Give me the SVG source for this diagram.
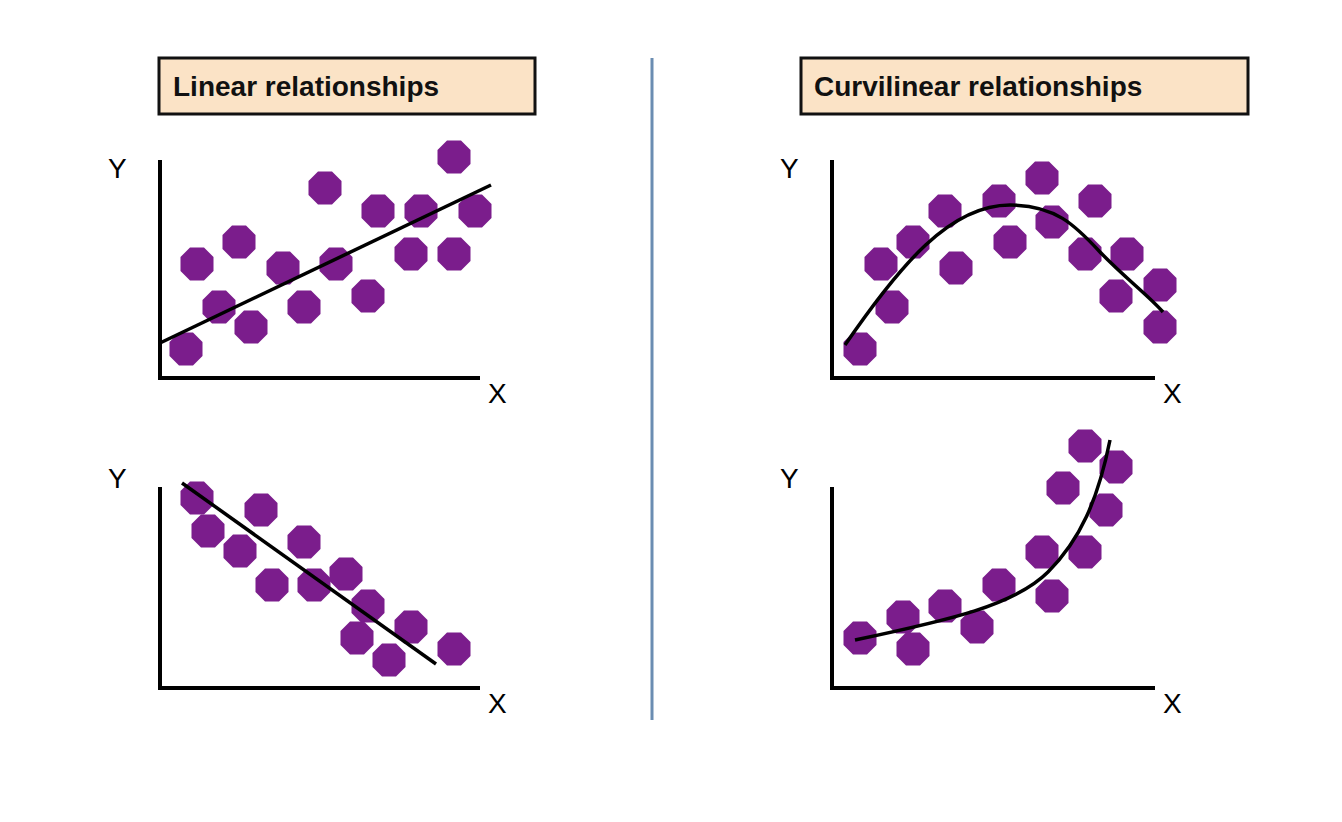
<svg xmlns="http://www.w3.org/2000/svg" width="1342" height="822" viewBox="0 0 1342 822">
<style>
.t{font-family:"Liberation Sans",Arial,sans-serif;font-weight:bold;font-size:28px;fill:#111}
.ax{font-family:"Liberation Sans",Arial,sans-serif;font-size:28px;fill:#000}
.box{fill:#fbe3c6;stroke:#111;stroke-width:3}
.axis{fill:none;stroke:#000;stroke-width:4}
.fit{fill:none;stroke:#000;stroke-width:3.5}
</style>
<defs>
<polygon id="d" points="-7,-16.5 7,-16.5 16.5,-7 16.5,7 7,16.5 -7,16.5 -16.5,7 -16.5,-7" fill="#7b1d8c"/>
</defs>
<rect width="1342" height="822" fill="#fff"/>
<line x1="652" y1="58" x2="652" y2="720" stroke="#6b8db2" stroke-width="3"/>
<g id="title-linear"><rect class="box" x="159" y="58" width="376" height="56"/><text class="t" x="173" y="96">Linear relationships</text></g>
<g id="title-curvilinear"><rect class="box" x="801" y="58" width="447" height="56"/><text class="t" x="814" y="96">Curvilinear relationships</text></g>
<g id="plot-linear-pos">
<path class="axis" d="M160,160V378H480"/><text class="ax" x="108" y="178">Y</text><text class="ax" x="488" y="403">X</text>
<use href="#d" x="186" y="349"/><use href="#d" x="197" y="264"/><use href="#d" x="219" y="307"/><use href="#d" x="239" y="242"/><use href="#d" x="251" y="327"/><use href="#d" x="283" y="268"/><use href="#d" x="304" y="307"/><use href="#d" x="325" y="188"/><use href="#d" x="336" y="264"/><use href="#d" x="368" y="296"/><use href="#d" x="378" y="211"/><use href="#d" x="411" y="254"/><use href="#d" x="421" y="211"/><use href="#d" x="454" y="157"/><use href="#d" x="454" y="254"/><use href="#d" x="475" y="211"/>
</g>
<g id="plot-linear-neg">
<path class="axis" d="M160,487V688H480"/><text class="ax" x="108" y="488">Y</text><text class="ax" x="488" y="713">X</text>
<use href="#d" x="197" y="498"/><use href="#d" x="208" y="531"/><use href="#d" x="240" y="551"/><use href="#d" x="261" y="510"/><use href="#d" x="272" y="585"/><use href="#d" x="304" y="542"/><use href="#d" x="314" y="585"/><use href="#d" x="346" y="574"/><use href="#d" x="368" y="606"/><use href="#d" x="357" y="638"/><use href="#d" x="389" y="660"/><use href="#d" x="411" y="627"/><use href="#d" x="454" y="649"/>
</g>
<g id="plot-curve-peak">
<path class="axis" d="M832,160V378H1155"/><text class="ax" x="780" y="178">Y</text><text class="ax" x="1163" y="403">X</text>
<use href="#d" x="860" y="349"/><use href="#d" x="892" y="307"/><use href="#d" x="881" y="264"/><use href="#d" x="913" y="242"/><use href="#d" x="945" y="211"/><use href="#d" x="956" y="268"/><use href="#d" x="999" y="201"/><use href="#d" x="1010" y="242"/><use href="#d" x="1042" y="178"/><use href="#d" x="1052" y="222"/><use href="#d" x="1085" y="254"/><use href="#d" x="1095" y="201"/><use href="#d" x="1116" y="296"/><use href="#d" x="1127" y="254"/><use href="#d" x="1160" y="285"/><use href="#d" x="1160" y="327"/>
</g>
<g id="plot-curve-exp">
<path class="axis" d="M832,487V688H1155"/><text class="ax" x="780" y="488">Y</text><text class="ax" x="1163" y="713">X</text>
<use href="#d" x="860" y="638"/><use href="#d" x="903" y="617"/><use href="#d" x="913" y="649"/><use href="#d" x="945" y="606"/><use href="#d" x="977" y="627"/><use href="#d" x="999" y="585"/><use href="#d" x="1042" y="552"/><use href="#d" x="1052" y="596"/><use href="#d" x="1063" y="488"/><use href="#d" x="1085" y="552"/><use href="#d" x="1085" y="446"/><use href="#d" x="1106" y="510"/><use href="#d" x="1116" y="467"/>
</g>
<g id="connectors">
<line class="fit" x1="160" y1="343" x2="491" y2="185"/>
<line class="fit" x1="182" y1="483" x2="436" y2="664"/>
<path class="fit" d="M845,345C900,265 950,205 1010,205C1055,205 1075,225 1100,252C1125,278 1148,295 1163,312"/>
<path class="fit" d="M855,640C950,620 1015,605 1048,572C1080,540 1098,500 1110,440"/>
</g>
</svg>
